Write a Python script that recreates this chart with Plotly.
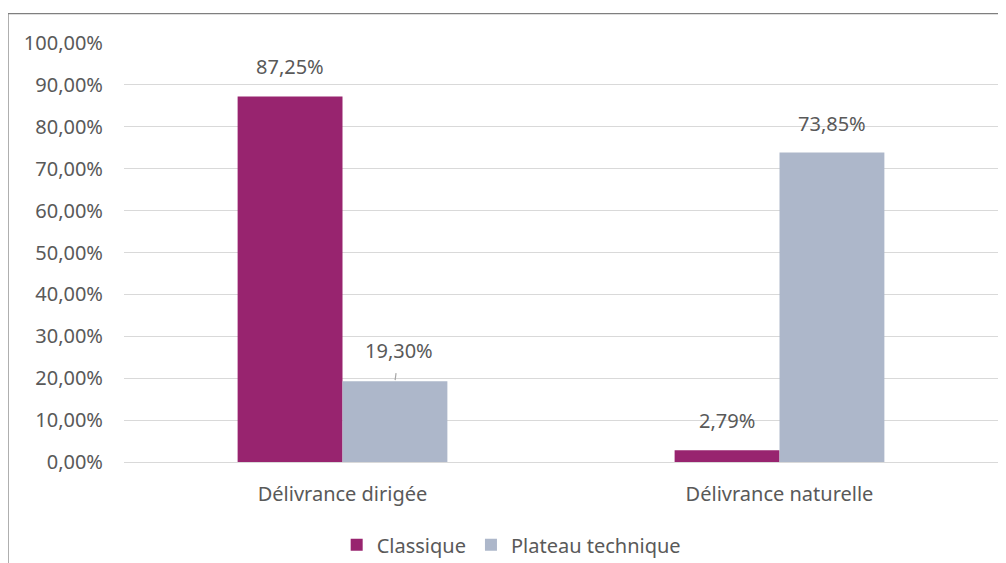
import plotly.graph_objects as go

categories = ["Délivrance dirigée", "Délivrance naturelle"]
classique = [87.25, 2.79]
plateau = [19.30, 73.85]
tick_vals = [0, 10, 20, 30, 40, 50, 60, 70, 80, 90, 100]
tick_text = [f"{v},00%" for v in tick_vals]


def fr_pct(v):
    return f"{v:.2f}".replace(".", ",") + "%"


grey = "#595959"
fs = 20
font = dict(family="Noto Sans, Open Sans, sans-serif", size=fs, color=grey)
half_bar = 52.5  # demi-largeur d'une barre en px, pour placer les étiquettes

fig = go.Figure()
fig.add_trace(go.Bar(
    x=categories, y=classique, name="Classique",
    marker=dict(color="#98246f", line=dict(width=0)),
))
fig.add_trace(go.Bar(
    x=categories, y=plateau, name="Plateau technique",
    marker=dict(color="#adb7ca", line=dict(width=0)),
))

# étiquettes de données
for cat, v in zip(categories, classique):
    fig.add_annotation(x=cat, y=v, xref="x", yref="y", text=fr_pct(v),
                       showarrow=False, xshift=-half_bar, yshift=14, yanchor="bottom",
                       font=dict(size=fs, color=grey))
for cat, v in zip(categories, plateau):
    if v < 30:
        # étiquette décalée avec trait de rappel
        fig.add_annotation(x=cat, y=v, xref="x", yref="y", text=fr_pct(v),
                           showarrow=True, arrowhead=0, arrowwidth=1.2, arrowcolor="#a6a6a6",
                           ax=4, ay=-31, standoff=1, startstandoff=8, xshift=half_bar,
                           font=dict(size=fs, color=grey))
    else:
        fig.add_annotation(x=cat, y=v, xref="x", yref="y", text=fr_pct(v),
                           showarrow=False, xshift=half_bar, yshift=14, yanchor="bottom",
                           font=dict(size=fs, color=grey))

# cadre du graphique (bord gauche + haut, le reste est coupé)
fig.add_shape(type="rect", xref="paper", yref="paper",
              x0=-0.1327, x1=1.03, y0=-0.35, y1=1.07,
              line=dict(color="#7f7f7f", width=1.2), layer="below")

fig.update_layout(
    width=1006, height=563,
    margin=dict(l=116, r=16, t=35, b=109, autoexpand=False),
    paper_bgcolor="white", plot_bgcolor="white",
    font=font,
    barmode="group", bargap=0.52, bargroupgap=0,
    showlegend=True,
    legend=dict(orientation="h", x=0.443, xanchor="center", y=-0.151, yanchor="top",
                font=dict(size=fs, color=grey), itemwidth=30),
    xaxis=dict(showline=False, ticks="", automargin=False,
               tickfont=dict(size=fs, color=grey), ticklabelstandoff=18),
    yaxis=dict(range=[0, 100], tickvals=tick_vals, ticktext=tick_text, automargin=False,
               showgrid=True, gridcolor="#d9d9d9", gridwidth=1,
               zeroline=True, zerolinecolor="#d9d9d9", zerolinewidth=1,
               tickfont=dict(size=fs, color=grey), ticklabelstandoff=20),
)

fig.write_html("out.html")
